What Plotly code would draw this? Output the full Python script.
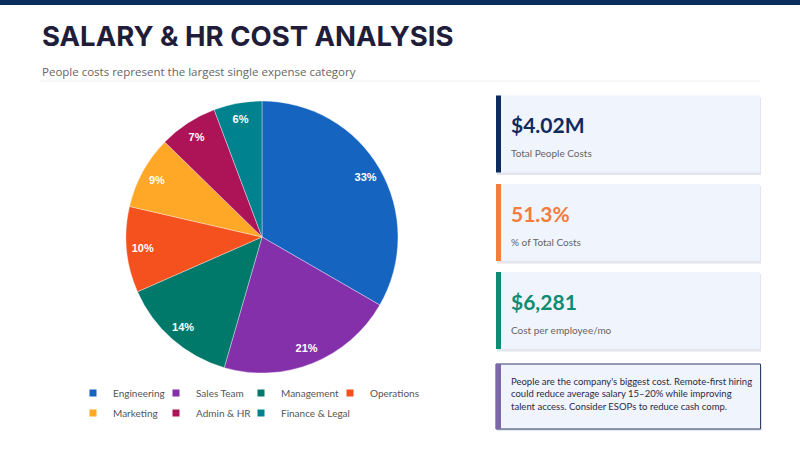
import plotly.graph_objects as go

# slice data ($K)
categories = ["Engineering", "Sales Team", "Management", "Operations",
              "Marketing", "Admin & HR", "Finance & Legal"]
costs_k = [1340, 850, 560, 410, 350, 280, 230]
colors = ["#1565C0", "#8430AB", "#00796B", "#F4511E",
          "#FFA726", "#AD1457", "#00838F"]

# KPI cards
kpi_values = ["$4.02M", "51.3%", "$6,281"]
kpi_labels = ["Total People Costs", "% of Total Costs", "Cost per employee/mo"]
kpi_colors = ["#0D2B5E", "#F47C3C", "#0E8B73"]

note_text = ("People are the company's biggest cost. Remote-first hiring<br>"
             "could reduce average salary 15–20% while improving<br>"
             "talent access. Consider ESOPs to reduce cash comp.")

W, H = 800, 450
pie_domain = dict(x=[126 / W, 398 / W], y=[1 - 373 / H, 1 - 101 / H])

fig = go.Figure()

# coloured slices
fig.add_trace(go.Pie(
    labels=categories,
    values=costs_k,
    marker=dict(colors=colors, line=dict(color="rgba(255,255,255,0.6)", width=0.6)),
    sort=False, direction="clockwise", rotation=0,
    textinfo="none",
    domain=pie_domain,
    showlegend=False,
    hoverinfo="label+value+percent",
))
# transparent ring carrying the percent labels near the rim
fig.add_trace(go.Pie(
    labels=categories,
    values=costs_k,
    hole=0.76,
    marker=dict(colors=["rgba(0,0,0,0)"] * len(categories), line=dict(width=0)),
    sort=False, direction="clockwise", rotation=0,
    texttemplate="%{percent:.0%}",
    textposition="inside",
    insidetextorientation="horizontal",
    textfont=dict(family="Liberation Sans", size=11, color="white", weight="bold"),
    domain=pie_domain,
    showlegend=False,
    hoverinfo="skip",
))

# legend: one small legend per entry so the grid matches (4 + 3 layout)
legend_style = dict(orientation="h", xanchor="left", yanchor="middle",
                    font=dict(family="Lato", size=10, color="#555555"),
                    bgcolor="rgba(0,0,0,0)", borderwidth=0)
legend_cols = [73, 156, 241, 330]
legend_layout = {}
for i, (name, c) in enumerate(zip(categories, colors)):
    key = "legend" if i == 0 else f"legend{i + 1}"
    fig.add_trace(go.Scatter(
        x=[None], y=[None], mode="markers", name=name,
        marker=dict(symbol="square", size=7, color=c),
        legend=key,
    ))
    col, row = i % 4, i // 4
    legend_layout[key] = dict(x=legend_cols[col] / W, y=1 - (393 + 20 * row) / H, **legend_style)

shapes = []
annotations = []

# top bar
shapes.append(dict(type="rect", x0=0, x1=W, y0=0, y1=5, fillcolor="#0B2D5B", line_width=0, layer="below"))
# divider under subtitle
shapes.append(dict(type="line", x0=40, x1=760, y0=81, y1=81, line=dict(color="#EEF0F4", width=1)))

annotations.append(dict(x=40, y=36, text="SALARY & HR COST ANALYSIS", showarrow=False,
                        xanchor="left", yanchor="middle",
                        font=dict(family="Inter", size=27.5, color="#1F1D3A", weight="bold")))
annotations.append(dict(x=40, y=71, text="People costs represent the largest single expense category",
                        showarrow=False, xanchor="left", yanchor="middle",
                        font=dict(family="Open Sans", size=11.5, color="#666666")))

card_tops = [95.5, 184, 272]
card_h = 77
for top, val, lab, col in zip(card_tops, kpi_values, kpi_labels, kpi_colors):
    # shadow
    shapes.append(dict(type="rect", x0=497, x1=761, y0=top + 2, y1=top + card_h + 2.5,
                       fillcolor="#E3E6EE", line_width=0, layer="below"))
    shapes.append(dict(type="rect", x0=496, x1=760, y0=top, y1=top + card_h,
                       fillcolor="#F0F4FD", line_width=0, layer="below"))
    shapes.append(dict(type="rect", x0=496, x1=501, y0=top, y1=top + card_h,
                       fillcolor=col, line_width=0, layer="below"))
    annotations.append(dict(x=509, y=top + 29, text=val, showarrow=False,
                            xanchor="left", yanchor="middle",
                            font=dict(family="Lato", size=21, color=col, weight="bold")))
    annotations.append(dict(x=509, y=top + 57.5, text=lab, showarrow=False,
                            xanchor="left", yanchor="middle",
                            font=dict(family="Lato", size=10, color="#666666")))

# note box
shapes.append(dict(type="rect", x0=497, x1=762, y0=366, y1=431,
                   fillcolor="#E3E6EE", line_width=0, layer="below"))
shapes.append(dict(type="rect", x0=496, x1=760.5, y0=364, y1=429,
                   fillcolor="#F0F4FD", line=dict(color="#2E3D66", width=1), layer="below"))
shapes.append(dict(type="rect", x0=496, x1=501, y0=364, y1=429,
                   fillcolor="#7B68A8", line_width=0, layer="below"))
annotations.append(dict(x=509, y=394, text=note_text, showarrow=False,
                        xanchor="left", yanchor="middle", align="left",
                        font=dict(family="Lato", size=9.5, color="#2A2A45")))

fig.update_layout(
    width=W, height=H,
    margin=dict(l=0, r=0, t=0, b=0),
    paper_bgcolor="white", plot_bgcolor="rgba(0,0,0,0)",
    xaxis=dict(range=[0, W], visible=False, fixedrange=True, domain=[0, 1]),
    yaxis=dict(range=[H, 0], visible=False, fixedrange=True, domain=[0, 1]),
    shapes=shapes,
    annotations=annotations,
    **legend_layout,
)

fig.write_html("out.html", config={"displayModeBar": False},
               post_script="document.body.style.margin='0';")
